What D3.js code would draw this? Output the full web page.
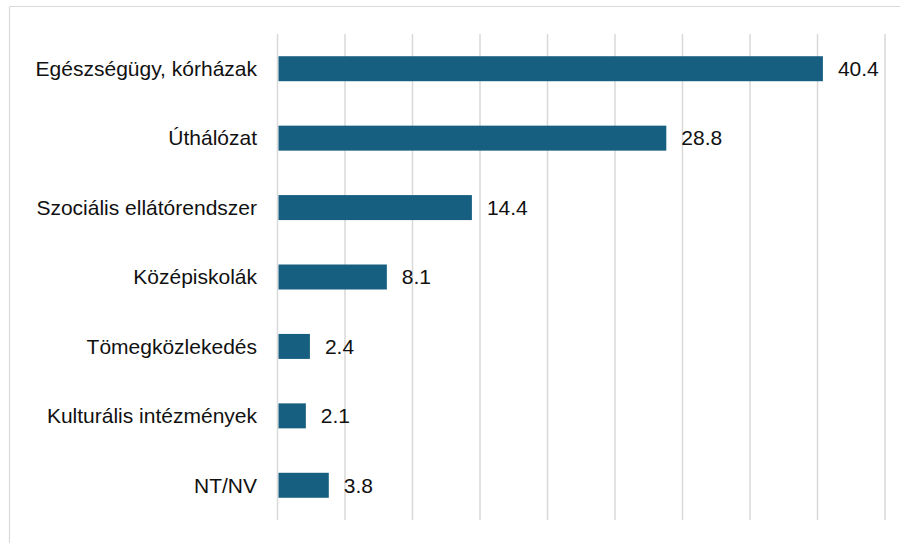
<!DOCTYPE html>
<html>
<head>
<meta charset="utf-8">
<script src="https://cdn.jsdelivr.net/npm/d3@7"></script>
<style>
    body { margin: 0; background: #fff; }
    svg text { font-family: 'Liberation Sans', Arial, sans-serif; fill: #111; }
</style>
</head>
<body>
<script>
const categories = [
    'Egészségügy, kórházak',
    'Úthálózat',
    'Szociális ellátórendszer',
    'Középiskolák',
    'Tömegközlekedés',
    'Kulturális intézmények',
    'NT/NV'
]
const values = [40.4, 28.8, 14.4, 8.1, 2.4, 2.1, 3.8]
const gridTicks = [0, 5, 10, 15, 20, 25, 30, 35, 40, 45]

const width = 900
const height = 543

const svg = d3.select('body').append('svg')
    .attr('width', width)
    .attr('height', height)

// outer frame (only top + left visible in the crop)
svg.append('line')
    .attr('x1', 9.5).attr('x2', width)
    .attr('y1', 6.5).attr('y2', 6.5)
    .attr('stroke', '#d9d9d9').attr('stroke-width', 1.2)
svg.append('line')
    .attr('x1', 9.5).attr('x2', 9.5)
    .attr('y1', 6.5).attr('y2', height)
    .attr('stroke', '#d9d9d9').attr('stroke-width', 1.2)

const x = d3.scaleLinear()
    .domain([0, 45])
    .range([277.5, 885])

const y = d3.scaleBand()
    .domain(categories)
    .range([34, 520])
    .paddingInner(0.64)
    .paddingOuter(0.32)

// vertical gridlines
svg.selectAll('line.grid')
    .data(gridTicks)
    .enter()
    .append('line')
    .attr('class', 'grid')
    .attr('x1', d => x(d))
    .attr('x2', d => x(d))
    .attr('y1', 34)
    .attr('y2', 520)
    .attr('stroke', '#d9d9d9')
    .attr('stroke-width', 1.5)

const data = categories.map((c, i) => ({ cat: c, val: values[i] }))

svg.selectAll('rect.bar')
    .data(data)
    .enter()
    .append('rect')
    .attr('class', 'bar')
    .attr('x', x(0) + 1)
    .attr('y', d => y(d.cat))
    .attr('width', d => x(d.val) - x(0) - 1)
    .attr('height', y.bandwidth())
    .attr('fill', '#175f80')

// value labels
svg.selectAll('text.value')
    .data(data)
    .enter()
    .append('text')
    .attr('class', 'value')
    .attr('x', d => x(d.val) + 15)
    .attr('y', d => y(d.cat) + y.bandwidth() / 2)
    .attr('dy', '0.35em')
    .attr('font-size', 21)
    .text(d => d.val.toFixed(1))

// category labels
svg.selectAll('text.cat')
    .data(data)
    .enter()
    .append('text')
    .attr('class', 'cat')
    .attr('x', 257)
    .attr('y', d => y(d.cat) + y.bandwidth() / 2)
    .attr('dy', '0.35em')
    .attr('text-anchor', 'end')
    .attr('font-size', 21)
    .text(d => d.cat)
</script>
</body>
</html>
